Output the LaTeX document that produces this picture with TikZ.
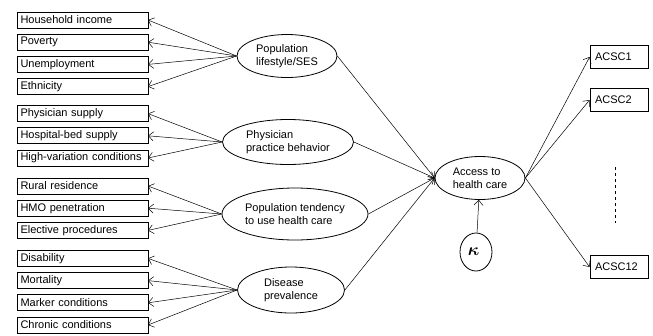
\documentclass[tikz,border=0pt]{standalone}
\usepackage{bm}
\usepackage{fontspec}
\setmainfont{Liberation Sans}
\usetikzlibrary{positioning, shapes.geometric, arrows.meta}

\begin{document}
\begin{tikzpicture}[x = 1pt, y = -1pt, font = \fontsize{11}{13}\selectfont,
    node distance = 6.2pt,
    box/.style = { draw, line width = .8pt, outer sep = 0pt, minimum height = 16pt, text width = 124pt,
      inner xsep = 3.5pt, inner ysep = 0pt, align = left },
    acsc/.style = { draw, line width = .8pt, minimum height = 23pt, text width = 48pt,
      inner xsep = 5pt, inner ysep = 0pt, align = left },
    latent/.style = { draw, shape = ellipse, line width = .8pt, inner sep = 0pt, align = left },
    every edge/.style = { draw, line width = .5pt },
    > = { Straight Barb[length = 5pt, width = 9pt] }]
  \useasboundingbox (0,0) rectangle (653,335);

  % indicator boxes
  \node [box] (income) at (82.5,20) { Household income };
  \node [box, below = of income] (poverty) { Poverty };
  \node [box, below = of poverty] (unemp) { Unemployment };
  \node [box, below = of unemp] (ethn) { Ethnicity };
  \node [box, below = 11pt of ethn] (physup) { Physician supply };
  \node [box, below = of physup] (bedsup) { Hospital-bed supply };
  \node [box, below = of bedsup] (highvar) { High-variation conditions };
  \node [box, below = 12pt of highvar] (rural) { Rural residence };
  \node [box, below = of rural] (hmo) { HMO penetration };
  \node [box, below = of hmo] (elective) { Elective procedures };
  \node [box, below = 12pt of elective] (disab) { Disability };
  \node [box, below = of disab] (mort) { Mortality };
  \node [box, below = of mort] (marker) { Marker conditions };
  \node [box, below = of marker] (chronic) { Chronic conditions };

  % latent factors
  \node [latent, minimum width = 100pt, minimum height = 43pt] (ses) at (287,56) { Population \\ lifestyle/SES };
  \node [latent, minimum width = 131pt, minimum height = 45pt] (practice) at (288,142) { Physician \\ practice behavior };
  \node [latent, minimum width = 146pt, minimum height = 52pt] (tendency) at (295,214) { Population tendency \\ to use health care };
  \node [latent, minimum width = 107pt, minimum height = 46pt] (disease) at (291,290) { Disease \\ prevalence };
  \node [latent, minimum width = 90pt, minimum height = 43pt] (access) at (480,178) { Access to \\ health care };
  \node [latent, minimum width = 32pt, minimum height = 38pt] (kappa) at (476,252) { \fontsize{17}{17}\selectfont $\bm{\kappa}$ };

  % outcomes
  \node [acsc] (acsc1) at (619,57) { ACSC1 };
  \node [acsc] (acsc2) at (619,100) { ACSC2 };
  \node [acsc] (acsc12) at (619,267) { ACSC12 };
  \coordinate (dotstop) at (615,167);
  \coordinate (dotsbottom) at (615,223);
  \draw [dashed, line width = .6pt] (dotstop) -- (dotsbottom);

  \path [->] (ses.west) edge (income.east) edge (poverty.east) edge (unemp.east) edge (ethn.east);
  \path [->] (practice.west) edge (physup.east) edge (bedsup.east) edge (highvar.east);
  \path [->] (tendency.west) edge (rural.east) edge (hmo.east) edge (elective.east);
  \path [->] (disease.west) edge (disab.east) edge (mort.east) edge (marker.east) edge (chronic.east);
  \path [->] (ses.east) edge (access.west) (practice.east) edge (access.west)
    (tendency.east) edge (access.west) (disease.east) edge (access.west);
  \path [->] (kappa) edge (access);
  \path [->] (access.east) edge (acsc1.west) edge (acsc2.west) edge (acsc12.west);
\end{tikzpicture}
\end{document}
